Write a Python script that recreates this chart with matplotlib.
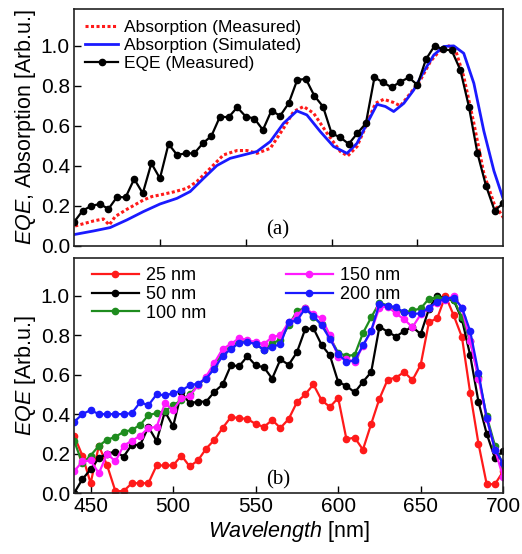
import numpy as np
import matplotlib
matplotlib.use("Agg")
import matplotlib.pyplot as plt

plt.rcParams['font.family'] = ['Liberation Sans', 'DejaVu Sans']
plt.rcParams['mathtext.fontset'] = 'custom'
plt.rcParams['mathtext.it'] = 'Liberation Sans:italic'
plt.rcParams['mathtext.rm'] = 'Liberation Sans'

# ---- panel (a): absorption vs EQE ----
wl_eqe = np.arange(450, 701, 5)
eqe_measured = [0.12, 0.177, 0.20, 0.21, 0.185, 0.245, 0.243, 0.335, 0.263, 0.413,
                0.338, 0.51, 0.455, 0.463, 0.463, 0.513, 0.55, 0.647, 0.643, 0.693,
                0.647, 0.637, 0.58, 0.677, 0.65, 0.713, 0.83, 0.835, 0.75, 0.697,
                0.563, 0.543, 0.51, 0.563, 0.613, 0.843, 0.817, 0.793, 0.82, 0.842,
                0.805, 0.933, 1.0, 0.983, 0.977, 0.88, 0.697, 0.463, 0.30, 0.177, 0.213]

wl_abs_meas = [450.6, 461.3, 467, 470.5, 473.9, 480.7, 490.4, 495.3, 500, 507.9,
               515.7, 521.5, 529.3, 537, 544.9, 550.7, 556.5, 564.3, 572, 577.9,
               583.7, 589.6, 597.4, 605.1, 609.4, 614.8, 620.7, 625.5, 630.4, 636.2,
               640.1, 645.9, 651.8, 657.6, 663.4, 668.3, 672.2, 677, 682.9, 688.7,
               694.6, 700.4]
abs_measured = [0.10, 0.125, 0.135, 0.105, 0.147, 0.183, 0.23, 0.247, 0.255, 0.27,
                0.288, 0.322, 0.388, 0.455, 0.477, 0.477, 0.463, 0.488, 0.588, 0.672,
                0.697, 0.663, 0.563, 0.472, 0.45, 0.497, 0.613, 0.713, 0.733, 0.717,
                0.70, 0.763, 0.83, 0.922, 0.98, 1.0, 0.98, 0.847, 0.613, 0.363,
                0.213, 0.138]

wl_abs_sim = [450.6, 461.3, 471, 480.7, 490.4, 500.1, 509.9, 517.6, 525.4, 533.2,
              540.9, 548.7, 556.5, 564.3, 572, 579.8, 585.6, 593.4, 601.2, 609,
              614.8, 620.7, 626.5, 631.4, 636.2, 642.1, 647.9, 653.7, 659.6, 665.4,
              671.2, 677, 682.9, 688.7, 694.6, 700.4]
abs_simulated = [0.058, 0.075, 0.092, 0.13, 0.172, 0.21, 0.238, 0.272, 0.338, 0.402,
                 0.438, 0.455, 0.472, 0.522, 0.613, 0.675, 0.655, 0.572, 0.497, 0.463,
                 0.513, 0.613, 0.708, 0.697, 0.672, 0.713, 0.78, 0.872, 0.955, 0.997,
                 1.0, 0.963, 0.813, 0.575, 0.375, 0.225]

# ---- panel (b): EQE for different thicknesses ----
wl_b = np.arange(440, 701, 5)
eqe_25 = [0.29, 0.19, 0.05, 0.24, 0.14, 0.01, 0.01, 0.05, 0.05, 0.05,
          0.14, 0.14, 0.14, 0.19, 0.135, 0.165, 0.225, 0.27, 0.33, 0.385,
          0.38, 0.375, 0.35, 0.335, 0.37, 0.33, 0.375, 0.46, 0.50, 0.55,
          0.47, 0.436, 0.482, 0.273, 0.281, 0.22, 0.35, 0.478, 0.575, 0.585,
          0.613, 0.572, 0.65, 0.866, 0.885, 1.0, 0.90, 0.79, 0.507, 0.251,
          0.045, 0.045, 0.11]
eqe_50 = [0.0, 0.07] + eqe_measured
eqe_100 = [0.265, 0.15, 0.19, 0.24, 0.27, 0.285, 0.31, 0.32, 0.345, 0.395,
           0.405, 0.415, 0.445, 0.47, 0.50, 0.545, 0.585, 0.65, 0.71, 0.745,
           0.765, 0.77, 0.755, 0.725, 0.76, 0.775, 0.85, 0.92, 0.94, 0.89,
           0.855, 0.79, 0.71, 0.695, 0.70, 0.81, 0.89, 0.965, 0.95, 0.925,
           0.915, 0.925, 0.935, 0.985, 0.99, 0.985, 0.98, 0.89, 0.77, 0.59,
           0.39, 0.24, 0.14]
eqe_150 = [0.11, 0.16, 0.165, 0.10, 0.20, 0.16, 0.24, 0.265, 0.29, 0.33,
           0.335, 0.455, 0.42, 0.48, 0.49, 0.545, 0.59, 0.66, 0.73, 0.755,
           0.785, 0.775, 0.765, 0.755, 0.79, 0.80, 0.865, 0.90, 0.94, 0.905,
           0.885, 0.80, 0.69, 0.68, 0.665, 0.745, 0.82, 0.94, 0.945, 0.91,
           0.88, 0.84, 0.905, 0.935, 0.965, 0.98, 1.0, 0.935, 0.77, 0.58,
           0.375, 0.22, 0.08]
eqe_200 = [0.36, 0.40, 0.42, 0.40, 0.40, 0.40, 0.40, 0.405, 0.46, 0.445,
           0.50, 0.495, 0.505, 0.52, 0.545, 0.555, 0.58, 0.63, 0.695, 0.73,
           0.76, 0.765, 0.755, 0.725, 0.74, 0.755, 0.865, 0.875, 0.933, 0.899,
           0.849, 0.781, 0.706, 0.664, 0.672, 0.748, 0.823, 0.958, 0.95, 0.941,
           0.916, 0.908, 0.91, 0.94, 0.97, 0.985, 0.99, 0.94, 0.82, 0.61,
           0.38, 0.22, 0.15]

thick_labels = ['25 nm', '50 nm', '100 nm', '150 nm', '200 nm']
thick_colors = ['#ff1a1a', '#000000', '#1e8c1e', '#ff1aff', '#1a1aff']

fig = plt.figure(figsize=(5.22, 5.54), dpi=100)
ax1 = fig.add_axes([0.142, 0.556, 0.822, 0.428])
ax2 = fig.add_axes([0.142, 0.110, 0.822, 0.424])

ax1.plot(wl_abs_meas, abs_measured, color='#ff1a1a', ls=(0, (1, 0.8)), lw=2.2,
         label='Absorption (Measured)')
ax1.plot(wl_abs_sim, abs_simulated, color='#1a1aff', lw=2,
         label='Absorption (Simulated)')
ax1.plot(wl_eqe, eqe_measured, color='black', lw=1.6, marker='o', ms=4.5,
         label='EQE (Measured)')
ax1.set_xlim(450, 700)
ax1.set_ylim(0, 1.185)
ax1.set_xticks([500, 550, 600, 650])
ax1.set_xticklabels([])
ax1.set_ylabel(r'$\mathit{EQE}$, Absorption [Arb.u.]', fontsize=15.5, labelpad=2)
ax1.text(0.475, 0.07, '(a)', transform=ax1.transAxes, ha='center', va='center',
         fontsize=15, family='Liberation Serif')
ax1.legend(loc='upper left', bbox_to_anchor=(0.0, 1.0), frameon=False,
           fontsize=12.5, handlelength=1.9, handletextpad=0.3, labelspacing=0.15,
           borderaxespad=0.25)

series_b = [eqe_25, eqe_50, eqe_100, eqe_150, eqe_200]
for vals, lab, col in zip(series_b, thick_labels, thick_colors):
    ax2.plot(wl_b, vals, color=col, lw=1.6, marker='o', ms=4.5, label=lab)
ax2.set_xlim(440, 700)
ax2.set_ylim(0, 1.19)
ax2.set_xticks([450, 500, 550, 600, 650, 700])
ax2.set_xlabel(r'$\mathit{Wavelength}$ [nm]', fontsize=15.5, labelpad=2)
ax2.set_ylabel(r'$\mathit{EQE}$ [Arb.u.]', fontsize=15.5, labelpad=2)
ax2.text(0.475, 0.055, '(b)', transform=ax2.transAxes, ha='center', va='center',
         fontsize=15, family='Liberation Serif')
ax2.legend(loc='upper left', bbox_to_anchor=(0.02, 1.0), ncol=2, frameon=False,
           fontsize=13, handlelength=2.6, handletextpad=0.4, labelspacing=0.1,
           columnspacing=4.4, borderaxespad=0.1)

for ax in (ax1, ax2):
    ax.set_yticks([0, 0.2, 0.4, 0.6, 0.8, 1.0])
    ax.set_yticklabels(['0.0', '0.2', '0.4', '0.6', '0.8', '1.0'])
    ax.tick_params(direction='in', length=5, width=1, labelsize=15, pad=3)
    for sp in ax.spines.values():
        sp.set_linewidth(1.2)
        sp.set_color('#222222')

fig.savefig('out.png', dpi=100)
